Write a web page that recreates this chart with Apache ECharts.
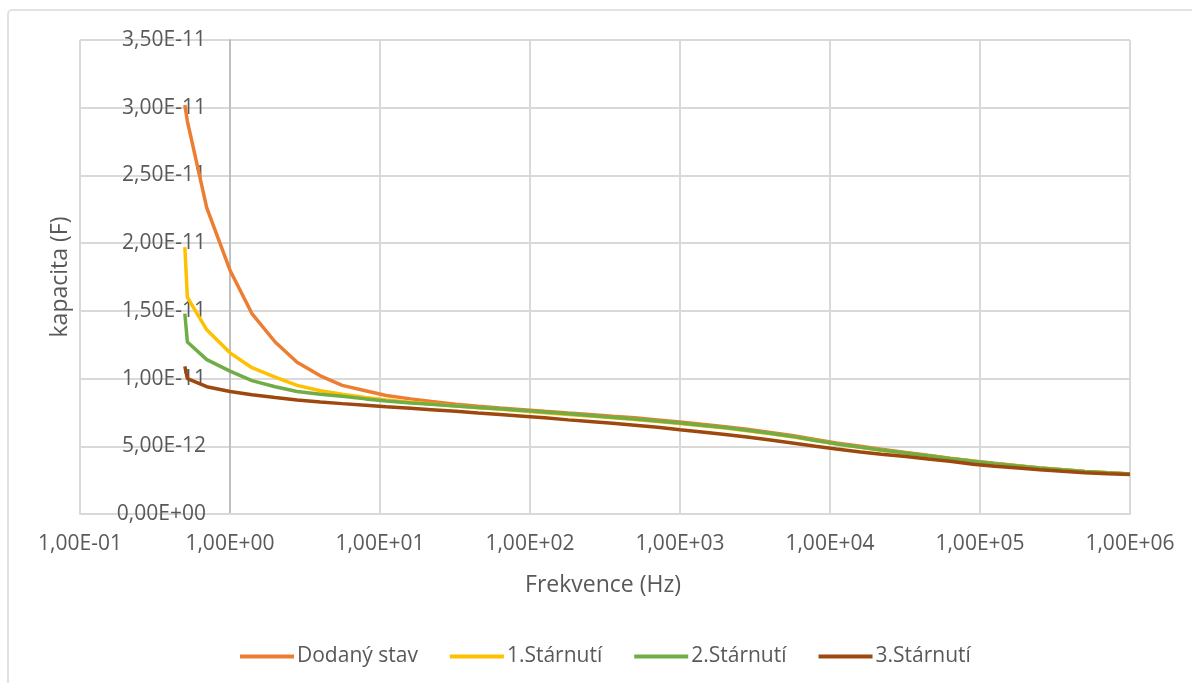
<!DOCTYPE html>
<html>
<head>
<meta charset="utf-8">
<script src="https://cdn.jsdelivr.net/npm/echarts@6/dist/echarts.min.js"></script>
<style>
html,body{margin:0;padding:0;background:#fff;}
#chart{width:1192px;height:683px;}
</style>
</head>
<body>
<div id="chart"></div>
<script>
// Frequencies (Hz)
const freq = [0.5, 0.52, 0.7, 1, 1.4, 2, 2.8, 4, 5.6, 8, 11, 16, 22, 32, 45, 63, 90, 125, 180, 250, 355, 500, 710,
  1000, 1400, 2000, 2800, 4000, 5600, 8000, 11000, 16000, 22000, 32000, 45000, 63000, 90000, 125000, 180000, 250000,
  355000, 500000, 710000, 1000000];
// Capacitance values in pF (x 1e-12 F)
const dodanyStav = [30.2, 29.0, 22.6, 18.0, 14.8, 12.7, 11.2, 10.2, 9.5, 9.1, 8.75, 8.5, 8.3, 8.1, 7.95, 7.82, 7.7, 7.58,
  7.45, 7.35, 7.22, 7.1, 6.95, 6.8, 6.62, 6.45, 6.25, 6.02, 5.8, 5.5, 5.25, 5.0, 4.78, 4.55, 4.33, 4.12, 3.92, 3.74,
  3.56, 3.4, 3.26, 3.14, 3.04, 2.95];
const starnuti1 = [19.7, 16.0, 13.6, 11.9, 10.8, 10.1, 9.5, 9.1, 8.85, 8.6, 8.42, 8.25, 8.12, 7.98, 7.85, 7.73, 7.6, 7.48,
  7.35, 7.23, 7.1, 6.98, 6.83, 6.68, 6.52, 6.35, 6.15, 5.93, 5.7, 5.42, 5.17, 4.92, 4.71, 4.49, 4.29, 4.09, 3.9, 3.72,
  3.55, 3.4, 3.26, 3.14, 3.04, 2.95];
const starnuti2 = [14.8, 12.7, 11.4, 10.55, 9.85, 9.4, 9.05, 8.85, 8.7, 8.5, 8.35, 8.2, 8.1, 7.98, 7.87, 7.77, 7.65, 7.53,
  7.4, 7.28, 7.15, 7.02, 6.87, 6.72, 6.55, 6.38, 6.18, 5.96, 5.73, 5.43, 5.18, 4.93, 4.72, 4.5, 4.3, 4.1, 3.9, 3.72,
  3.55, 3.4, 3.26, 3.14, 3.04, 2.95];
const starnuti3 = [10.9, 10.0, 9.4, 9.05, 8.8, 8.6, 8.42, 8.27, 8.15, 8.03, 7.92, 7.8, 7.7, 7.58, 7.46, 7.35, 7.22, 7.1,
  6.95, 6.83, 6.7, 6.56, 6.4, 6.22, 6.05, 5.87, 5.68, 5.47, 5.25, 5.0, 4.8, 4.58, 4.42, 4.24, 4.06, 3.9, 3.68, 3.53,
  3.4, 3.27, 3.15, 3.05, 2.98, 2.92];
const seriesNames = ['Dodaný stav', '1.Stárnutí', '2.Stárnutí', '3.Stárnutí'];
const seriesColors = ['#ED7D31', '#FFC000', '#70AD47', '#9E480E'];
const xTickLabels = ['1,00E-01', '1,00E+00', '1,00E+01', '1,00E+02', '1,00E+03', '1,00E+04', '1,00E+05', '1,00E+06'];
const yTickLabels = ['0,00E+00', '5,00E-12', '1,00E-11', '1,50E-11', '2,00E-11', '2,50E-11', '3,00E-11', '3,50E-11'];

const allValues = [dodanyStav, starnuti1, starnuti2, starnuti3];
const FONT = "'Open Sans', 'Noto Sans', sans-serif";
const TXT = '#595959';

const chart = echarts.init(document.getElementById('chart'), null, {renderer: 'canvas'});
const option = {
  backgroundColor: '#ffffff',
  animation: false,
  textStyle: {fontFamily: FONT},
  graphic: [
    {type: 'rect', shape: {x: 8, y: 10, width: 1300, height: 800, r: 4},
      style: {fill: 'none', stroke: '#d9d9d9', lineWidth: 1.5}, silent: true, z: -10},
    {type: 'text', x: 60, y: 277, rotation: Math.PI / 2,
      style: {text: 'kapacita (F)', fill: TXT, font: "23px 'Open Sans', sans-serif", align: 'center', verticalAlign: 'middle'}},
    {type: 'text', x: 603, y: 585,
      style: {text: 'Frekvence (Hz)', fill: TXT, font: "23px 'Open Sans', sans-serif", align: 'center', verticalAlign: 'middle'}}
  ],
  grid: {left: 80, right: 62, top: 40, bottom: 169, containLabel: false, outerBoundsMode: 'none'},
  legend: {
    left: 240, top: 646, padding: 0,
    icon: 'rect', itemWidth: 54, itemHeight: 4, itemGap: 32,
    textStyle: {color: TXT, fontSize: 21, fontFamily: FONT, padding: [0, 0, 0, -2]},
    data: seriesNames
  },
  xAxis: {
    type: 'log', logBase: 10, min: 0.1, max: 1000000,
    axisLine: {show: true, lineStyle: {color: '#d9d9d9', width: 2}},
    axisTick: {show: false},
    minorTick: {show: false},
    splitLine: {show: true, lineStyle: {color: '#d9d9d9', width: 2}},
    axisLabel: {
      color: TXT, fontSize: 21, fontFamily: FONT, margin: 20, showMinLabel: true, showMaxLabel: true,
      formatter: function (v) {
        const i = Math.round(Math.log10(v)) + 1;
        return xTickLabels[i] !== undefined ? xTickLabels[i] : '';
      }
    }
  },
  yAxis: {
    type: 'value', min: 0, max: 35, interval: 5, offset: -150,
    axisLine: {show: true, lineStyle: {color: '#bfbfbf', width: 2}},
    axisTick: {show: false},
    splitLine: {show: true, lineStyle: {color: '#d9d9d9', width: 2}},
    axisLabel: {
      color: TXT, fontSize: 21, fontFamily: FONT, margin: 24,
      formatter: function (v) {
        const i = Math.round(v / 5);
        return yTickLabels[i] !== undefined ? yTickLabels[i] : '';
      }
    }
  },
  series: seriesNames.map(function (name, k) {
    return {
      name: name, type: 'line', symbol: 'none', smooth: false,
      lineStyle: {color: seriesColors[k], width: 3.5},
      itemStyle: {color: seriesColors[k]},
      data: freq.map(function (f, i) { return [f, allValues[k][i]]; }),
      z: 10 + k
    };
  })
};
chart.setOption(option);
</script>
</body>
</html>
